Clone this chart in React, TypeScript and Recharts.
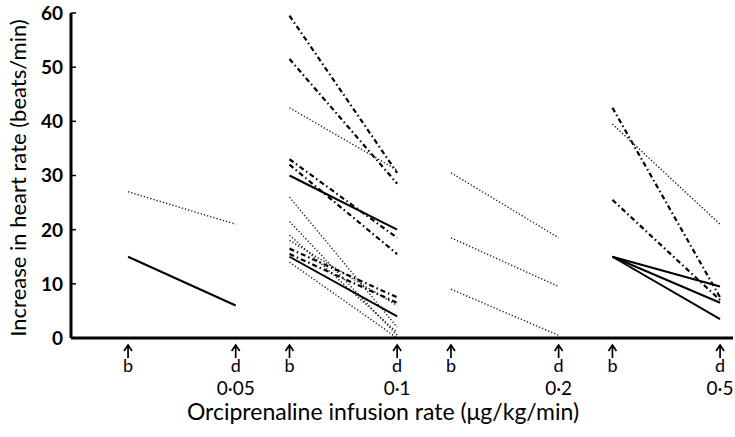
import { ReactElement } from "react";
import { Line, LineChart, XAxis, YAxis } from "recharts";

// infusion rates (µg/kg/min), one pair of ticks (b = before, d = during) each
const rates = ["0·05", "0·1", "0·2", "0·5"];
const yTicks = [0, 10, 20, 30, 40, 50, 60];

// increase in heart rate (beats/min), one entry per subject
const before005 = [27, 15];
const during005 = [21, 6];
const pattern005 = ["dotted", "solid"];

const before01 = [59.5, 51.5, 42.5, 33, 32, 30, 26, 21.5, 19, 18, 16.5, 15.5, 15, 14];
const during01 = [30.5, 28.5, 31, 18.5, 15.5, 20, 2, 0.5, 1, 6, 7.5, 6.5, 4, 0];
const pattern01 = [
  "dashdot", "dashdot", "dotted", "dashdot", "dashdot", "solid", "dotted",
  "dotted", "dotted", "dotted", "dashdot", "dashdot", "solid", "dotted",
];

const before02 = [30.5, 18.5, 9];
const during02 = [18.5, 9.5, 0.5];
const pattern02 = ["dotted", "dotted", "dotted"];

const before05 = [42.5, 39.5, 25.5, 15, 15, 15];
const during05 = [7.5, 21, 7, 9.5, 6.5, 3.5];
const pattern05 = ["dashdot", "dotted", "dashdot", "solid", "solid", "solid"];

const groups = [
  { before: before005, during: during005, pattern: pattern005 },
  { before: before01, during: during01, pattern: pattern01 },
  { before: before02, during: during02, pattern: pattern02 },
  { before: before05, during: during05, pattern: pattern05 },
];

const styles: Record<string, { stroke: string; strokeWidth: number; strokeDasharray?: string }> = {
  solid: { stroke: "#000", strokeWidth: 2 },
  dashdot: { stroke: "#000", strokeWidth: 2.2, strokeDasharray: "5 3 1.5 3" },
  dotted: { stroke: "#222", strokeWidth: 1.4, strokeDasharray: "1.3 2" },
};

const font = "Lato, 'Open Sans', sans-serif";

const xTicks = rates.flatMap((_, g) => [g * 3, g * 3 + 2]);

function RateTick(props: any): ReactElement {
  const { x, y, payload } = props;
  const v = payload.value as number;
  const g = Math.floor(v / 3);
  const isD = v % 3 === 2;
  return (
    <g>
      <path
        d={`M${x},${y + 20} V${y + 8} M${x - 4},${y + 13} L${x},${y + 7} L${x + 4},${y + 13}`}
        stroke="#000"
        strokeWidth={1.7}
        fill="none"
      />
      <text x={x} y={y + 34} textAnchor="middle" fontFamily={font} fontSize={18} fill="#000">
        {isD ? "d" : "b"}
      </text>
      {isD && (
        <text x={x} y={y + 57} textAnchor="middle" fontFamily={font} fontSize={19} fill="#000">
          {rates[g]}
        </text>
      )}
    </g>
  );
}

function HrTick(props: any): ReactElement {
  const { x, y, payload } = props;
  return (
    <g>
      <line x1={x} x2={x + 5} y1={y} y2={y} stroke="#000" strokeWidth={1.5} />
      <text x={x - 8} y={y} dy="0.36em" textAnchor="end" fontFamily={font} fontWeight={700} fontSize={19} fill="#000">
        {payload.value}
      </text>
    </g>
  );
}

export default function App(): ReactElement {
  return (
    <div style={{ position: "absolute", left: 0, top: 0, background: "#fff" }}>
      <LineChart width={735} height={437} margin={{ top: 13, right: 2, bottom: 0, left: 0 }}>
        <XAxis
          dataKey="x"
          type="number"
          domain={[-1.06, 11.24]}
          allowDataOverflow
          ticks={xTicks}
          interval={0}
          tick={<RateTick />}
          tickLine={false}
          tickSize={0}
          tickMargin={0}
          height={99}
          axisLine={{ stroke: "#000", strokeWidth: 3 }}
          label={() => (
            <text x={383} y={420} textAnchor="middle" fontFamily={font} fontSize={23} fill="#000">
              Orciprenaline infusion rate (μg/kg/min)
            </text>
          )}
        />
        <YAxis
          type="number"
          domain={[0, 60]}
          ticks={yTicks}
          interval={0}
          width={71}
          tick={<HrTick />}
          tickLine={false}
          tickSize={0}
          tickMargin={0}
          axisLine={{ stroke: "#000", strokeWidth: 3 }}
          label={() => (
            <text
              x={26}
              y={178}
              transform="rotate(-90 26 178)"
              textAnchor="middle"
              fontFamily={font}
              fontSize={22}
              fill="#000"
            >
              Increase in heart rate (beats/min)
            </text>
          )}
        />
        {groups.flatMap((grp, g) =>
          grp.before.map((b, i) => (
            <Line
              key={`${g}-${i}`}
              data={[
                { x: g * 3, y: b },
                { x: g * 3 + 2, y: grp.during[i] },
              ]}
              dataKey="y"
              type="linear"
              dot={false}
              activeDot={false}
              isAnimationActive={false}
              {...styles[grp.pattern[i]]}
            />
          ))
        )}
      </LineChart>
    </div>
  );
}
